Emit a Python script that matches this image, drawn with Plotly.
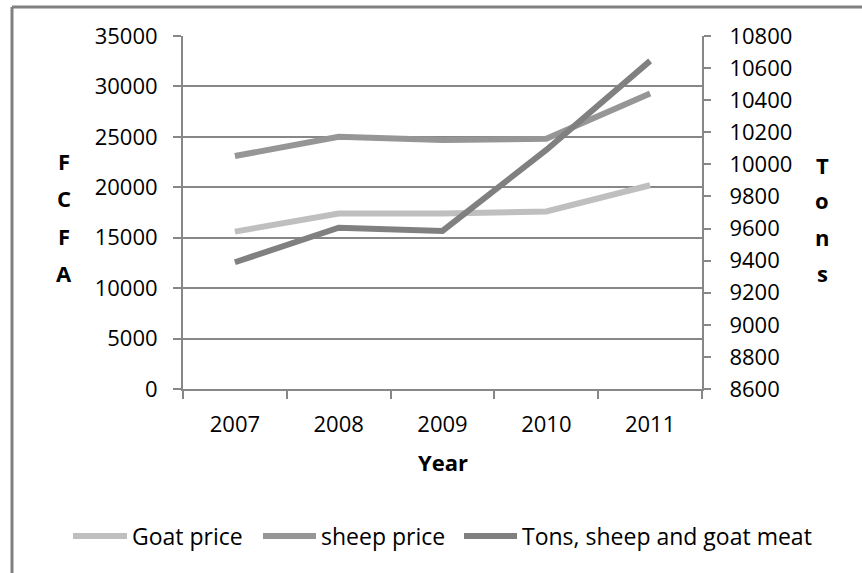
import plotly.graph_objects as go

years = ["2007", "2008", "2009", "2010", "2011"]
goat_price = [15600, 17400, 17400, 17600, 20200]
sheep_price = [23100, 25000, 24700, 24800, 29300]
tons_meat = [9390, 9605, 9585, 10090, 10645]

W, H = 862, 573
L, R, T, B = 183, 702, 36, 389
PW, PH = R - L, B - T

def px(x):
    return (x - L) / PW

def py(y):
    return (B - y) / PH

FONT = "Open Sans"
GRID = "#878787"
C_GOAT, C_SHEEP, C_TONS = "#BFBFBF", "#969696", "#808080"
LEGEND_FONT = dict(family=FONT, size=23, color="black")
LEG_Y = 536

fig = go.Figure()
fig.add_trace(go.Scatter(x=years, y=goat_price, name="Goat price", mode="lines",
                         line=dict(color=C_GOAT, width=6), legend="legend"))
fig.add_trace(go.Scatter(x=years, y=sheep_price, name="sheep price", mode="lines",
                         line=dict(color=C_SHEEP, width=6), legend="legend2"))
fig.add_trace(go.Scatter(x=years, y=tons_meat, name="Tons, sheep and goat meat", mode="lines",
                         line=dict(color=C_TONS, width=6), yaxis="y2", legend="legend3"))

annotations = []
for i, ch in enumerate("FCFA"):
    annotations.append(dict(text="<b>%s</b>" % ch, x=px(64), y=py([161, 198, 236, 273][i]),
                            xref="paper", yref="paper", showarrow=False,
                            xanchor="center", yanchor="middle",
                            font=dict(family=FONT, size=22, color="black")))
for i, ch in enumerate("Tons"):
    annotations.append(dict(text="<b>%s</b>" % ch, x=px(822), y=py([165, 200, 237, 273][i]),
                            xref="paper", yref="paper", showarrow=False,
                            xanchor="center", yanchor="middle",
                            font=dict(family=FONT, size=22, color="black")))
annotations.append(dict(text="<b>Year</b>", x=0.5, y=py(462), xref="paper", yref="paper",
                        showarrow=False, xanchor="center", yanchor="middle",
                        font=dict(family=FONT, size=22, color="black")))

def leg(x0):
    return dict(orientation="h", x=px(x0), y=py(LEG_Y), xanchor="left", yanchor="middle",
                font=LEGEND_FONT, itemwidth=30, bgcolor="rgba(0,0,0,0)")

# extend the short legend line samples to the left (reference uses long samples)
def sample_ext(x0, x1, color):
    return dict(type="line", xref="paper", yref="paper", x0=px(x0), x1=px(x1),
                y0=py(LEG_Y), y1=py(LEG_Y), line=dict(color=color, width=6))

fig.update_layout(
    width=W, height=H,
    margin=dict(l=L, r=W - R, t=T, b=H - B, pad=0),
    paper_bgcolor="white", plot_bgcolor="white",
    font=dict(family=FONT, size=22, color="black"),
    showlegend=True,
    legend=leg(92),
    legend2=leg(281),
    legend3=leg(482),
    xaxis=dict(type="category", range=[-0.5, 4.5], tickson="boundaries",
               ticks="outside", ticklen=8, tickwidth=2, tickcolor=GRID,
               showline=True, linecolor=GRID, linewidth=2, showgrid=False,
               tickfont=dict(family=FONT, size=22), ticklabelstandoff=15),
    yaxis=dict(range=[0, 35000], dtick=5000, tickformat="d", ticks="outside", ticklen=8, tickwidth=2,
               tickcolor=GRID, showline=True, linecolor=GRID, linewidth=2,
               showgrid=True, gridcolor=GRID, gridwidth=2, zeroline=False,
               tickfont=dict(family=FONT, size=22), ticklabelstandoff=11),
    yaxis2=dict(range=[8600, 10800], dtick=200, tickformat="d", overlaying="y", side="right",
                ticks="outside", ticklen=7, tickwidth=2, tickcolor=GRID,
                showline=True, linecolor=GRID, linewidth=2, showgrid=False, zeroline=False,
                tickfont=dict(family=FONT, size=22), ticklabelstandoff=14),
    annotations=annotations,
    shapes=[
        dict(type="line", xref="paper", yref="paper", x0=px(12), x1=px(870), y0=py(7), y1=py(7),
             line=dict(color="#808080", width=3)),
        dict(type="line", xref="paper", yref="paper", x0=px(12), x1=px(12), y0=py(7), y1=py(580),
             line=dict(color="#808080", width=3)),
        sample_ext(73, 100, C_GOAT),
        sample_ext(263, 290, C_SHEEP),
        sample_ext(464, 490, C_TONS),
    ],
)

fig.write_html("out.html")
